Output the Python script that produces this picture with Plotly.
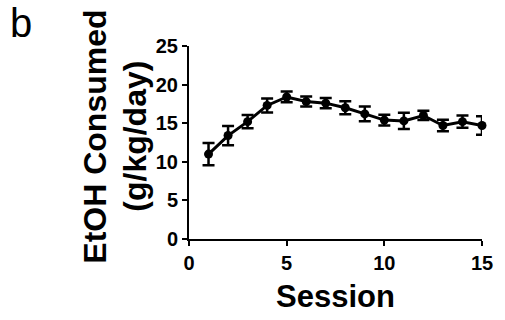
import plotly.graph_objects as go

# Daily ethanol intake across drinking sessions (mean ± SEM)
session = [1, 2, 3, 4, 5, 6, 7, 8, 9, 10, 11, 12, 13, 14, 15]
etoh_mean = [11.0, 13.4, 15.2, 17.3, 18.4, 17.8, 17.6, 17.0, 16.2, 15.4, 15.3, 16.0, 14.7, 15.2, 14.7]
etoh_sem = [1.45, 1.25, 0.85, 0.9, 0.7, 0.65, 0.65, 0.85, 0.95, 0.7, 1.05, 0.6, 0.75, 0.8, 1.2]

x_ticks = [0, 5, 10, 15]
y_ticks = [0, 5, 10, 15, 20, 25]
y_title_lines = ["EtOH Consumed", "(g/kg/day)"]

FONT = "Arial, 'Liberation Sans', sans-serif"

fig = go.Figure(
    go.Scatter(
        x=session,
        y=etoh_mean,
        mode="lines+markers",
        line=dict(color="black", width=3),
        marker=dict(color="black", size=9, symbol="circle"),
        error_y=dict(type="data", array=etoh_sem, visible=True,
                     color="black", thickness=2.5, width=6),
        cliponaxis=False,
        showlegend=False,
    )
)

axis_common = dict(
    showgrid=False,
    zeroline=False,
    showline=True,
    linecolor="black",
    linewidth=2,
    ticks="outside",
    ticklen=5,
    tickwidth=2,
    tickcolor="black",
    tickfont=dict(family=FONT, size=20, color="black", weight="bold"),
)

fig.update_xaxes(
    range=[0, 15],
    tickvals=x_ticks,
    title=dict(text="<b>Session</b>", font=dict(family=FONT, size=31, color="black"), standoff=12),
    **axis_common,
)
fig.update_yaxes(range=[0, 25], tickvals=y_ticks, **axis_common)

# Two-line vertical y-axis title, set as rotated text with tight line spacing
for line_text, x_px in zip(y_title_lines, [95, 135]):
    fig.add_annotation(
        text=f"<b>{line_text}</b>", textangle=-90,
        xref="paper", yref="paper", x=0, y=0.53,
        xanchor="center", yanchor="middle", xshift=x_px - 189,
        showarrow=False,
        font=dict(family=FONT, size=32, color="black"),
    )

fig.add_annotation(
    text="b", xref="paper", yref="paper", x=0, y=1,
    xanchor="left", yanchor="top", showarrow=False,
    font=dict(family=FONT, size=40, color="black"),
    xshift=8 - 189, yshift=47,
)

fig.update_layout(
    width=505,
    height=320,
    margin=dict(l=189, r=17, t=46, b=77),
    paper_bgcolor="white",
    plot_bgcolor="white",
)

fig.write_html("out.html")
